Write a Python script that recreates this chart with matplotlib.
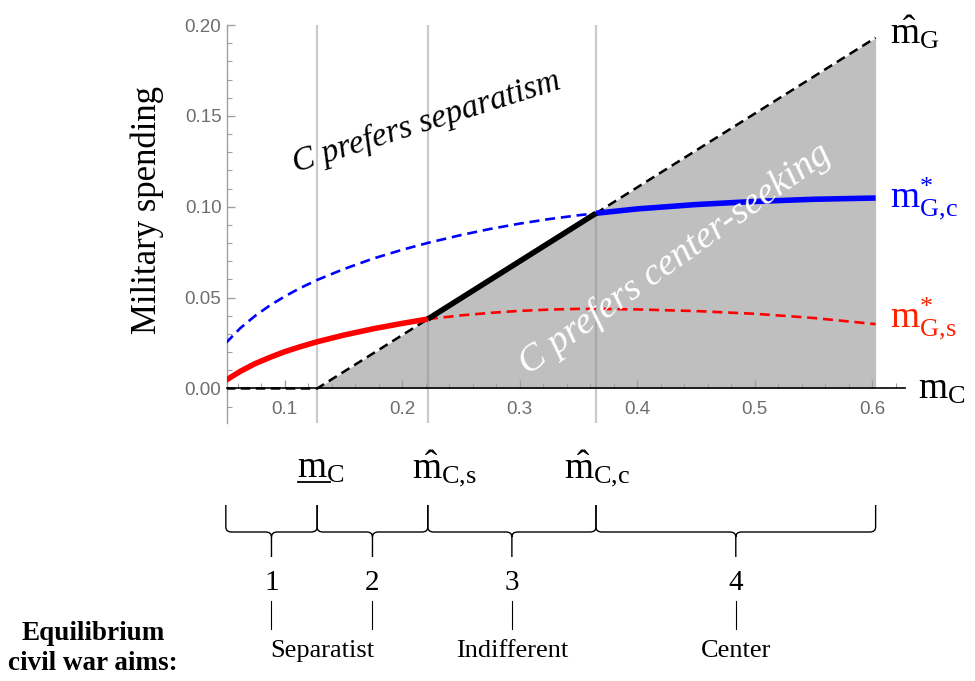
import matplotlib
matplotlib.use("Agg")
import matplotlib.pyplot as plt
from matplotlib.path import Path
from matplotlib.patches import PathPatch
from matplotlib.transforms import blended_transform_factory
from matplotlib.lines import Line2D
from matplotlib.ticker import MultipleLocator, FixedLocator

plt.rcParams['mathtext.fontset'] = 'custom'
plt.rcParams['mathtext.rm'] = 'Liberation Serif'
plt.rcParams['mathtext.it'] = 'Liberation Serif:italic'
plt.rcParams['mathtext.bf'] = 'Liberation Serif:bold'

# ---------------- data ----------------
m_C_low = 0.1277     # underline m_C
m_hat_Cs = 0.2219    # hat m_{C,s}
m_hat_Cc = 0.365     # hat m_{C,c}
x_start = 0.05
x_end = 0.603

# hat m_G threshold curve
mhat_x = [0.05, 0.1277, 0.2219, 0.365, 0.603]
mhat_y = [0.0, 0.0, 0.0382, 0.0964, 0.193]

curve_x = [0.05, 0.0625, 0.075, 0.0875, 0.1, 0.1125, 0.1277, 0.15, 0.175, 0.2, 0.2219,
           0.25, 0.275, 0.3, 0.325, 0.35, 0.365, 0.4, 0.45, 0.5, 0.55, 0.603]
m_Gc = [0.025, 0.0333, 0.0400, 0.0457, 0.0506, 0.0550, 0.0597, 0.0656, 0.0714, 0.0763,
        0.0801, 0.0844, 0.0878, 0.0907, 0.0932, 0.0953, 0.0964, 0.0988, 0.1012, 0.1029,
        0.1041, 0.1048]
m_Gs = [0.0045, 0.0095, 0.0137, 0.0171, 0.0202, 0.0228, 0.0257, 0.0293, 0.0328, 0.0358,
        0.0382, 0.0402, 0.0416, 0.0427, 0.0434, 0.0438, 0.0438, 0.0435, 0.0426, 0.0411,
        0.0388, 0.0354]

x_ticks = [0.1, 0.2, 0.3, 0.4, 0.5, 0.6]
y_ticks = [0.0, 0.05, 0.10, 0.15, 0.20]
region_numbers = ["1", "2", "3", "4"]
aims = ["Separatist", "Indifferent", "Center"]

# ---------------- figure ----------------
W, H = 975, 681
fig = plt.figure(figsize=(W / 100, H / 100), dpi=100)

def px(x, y):
    return x / W, 1 - y / H

ax = fig.add_axes([227 / W, 1 - 423 / H, (905 - 227) / W, (423 - 25) / H])
ax.set_xlim(0.051, 0.628)
ax.set_ylim(-0.019, 0.2)
ax.patch.set_alpha(0)

SERIF = 'Liberation Serif'
SANS = 'Liberation Sans'
GRAY_TXT = '#6e6e6e'
AX_GRAY = '#a0a0a0'

# shaded region (C prefers center-seeking)
ax.fill_between(mhat_x, 0, mhat_y, color='#bfbfbf', lw=0, zorder=1)

# vertical threshold lines
for xv in [m_C_low, m_hat_Cs, m_hat_Cc]:
    ax.axvline(xv, color=(0.55, 0.55, 0.55), alpha=0.45, lw=1.6, zorder=2)

# threshold line hat m_G (dashed)
ax.plot(mhat_x, mhat_y, color='black', lw=1.8, dashes=(3.8, 2.2), zorder=4,
        solid_capstyle='butt', dash_capstyle='butt')
# solid black piece between hat m_{C,s} and hat m_{C,c}
i0, i1 = mhat_x.index(m_hat_Cs), mhat_x.index(m_hat_Cc)
ax.plot(mhat_x[i0:i1 + 1], mhat_y[i0:i1 + 1], color='black', lw=4.0, zorder=6,
        solid_capstyle='butt')

# blue curve m*_{G,c}
kc = curve_x.index(m_hat_Cc)
ax.plot(curve_x[:kc + 1], m_Gc[:kc + 1], color='#0000ff', lw=1.9, dashes=(3.8, 2.2),
        zorder=5, dash_capstyle='butt')
ax.plot(curve_x[kc:], m_Gc[kc:], color='#0000ff', lw=4.0, zorder=5, solid_capstyle='butt',
        solid_joinstyle='round')

# red curve m*_{G,s}
ks = curve_x.index(m_hat_Cs)
ax.plot(curve_x[:ks + 1], m_Gs[:ks + 1], color='#ff0000', lw=4.0, zorder=5,
        solid_capstyle='butt', solid_joinstyle='round')
ax.plot(curve_x[ks:], m_Gs[ks:], color='#ff0000', lw=1.9, dashes=(3.8, 2.2),
        zorder=5, dash_capstyle='butt')

# ---------------- axes styling ----------------
for s in ['top', 'right']:
    ax.spines[s].set_visible(False)
ax.spines['left'].set_color(AX_GRAY)
ax.spines['left'].set_linewidth(1.0)
ax.spines['bottom'].set_position(('data', 0))
ax.spines['bottom'].set_color('black')
ax.spines['bottom'].set_linewidth(1.2)
ax.spines['bottom'].set_zorder(3)

ax.xaxis.set_major_locator(FixedLocator(x_ticks))
ax.xaxis.set_minor_locator(MultipleLocator(0.02))
ax.yaxis.set_major_locator(FixedLocator(y_ticks))
ax.yaxis.set_minor_locator(MultipleLocator(0.01))
ax.set_xticklabels([f"{v:.1f}" for v in x_ticks])
ax.set_yticklabels([f"{v:.2f}" for v in y_ticks])
ax.tick_params(axis='both', which='both', direction='in', color=AX_GRAY,
               labelcolor=GRAY_TXT, labelsize=13.5)
ax.tick_params(axis='both', which='major', length=6, width=1.0)
ax.tick_params(axis='both', which='minor', length=3.5, width=0.8)
ax.tick_params(axis='x', pad=9)
ax.tick_params(axis='y', pad=4)
for lab in ax.get_xticklabels() + ax.get_yticklabels():
    lab.set_fontfamily(SANS)

# ---------------- text inside plot ----------------
ax.text(0.221, 0.1466, "C prefers separatism", family=SERIF, style='italic',
        fontsize=24, rotation=17.5, ha='center', va='center', zorder=8,
        rotation_mode='anchor')
ax.text(0.432, 0.0712, "C prefers center-seeking", family=SERIF, style='italic',
        fontsize=27.5, rotation=35.5, ha='center', va='center', color='white',
        zorder=8, rotation_mode='anchor')

# right-side labels
ax.text(0.615, 0.190, r"$\hat{\mathrm{m}}_{\mathrm{G}}$", fontsize=27, color='black',
        ha='left', va='baseline', clip_on=False)
ax.text(0.615, 0.0998, r"$\mathrm{m}^{*}_{\mathrm{G{,}c}}$", fontsize=27, color='#0000ff',
        ha='left', va='baseline', clip_on=False)
ax.text(0.615, 0.0336, r"$\mathrm{m}^{*}_{\mathrm{G{,}s}}$", fontsize=27, color='#ff2200',
        ha='left', va='baseline', clip_on=False)
ax.text(0.639, -0.0055, r"$\mathrm{m}_{\mathrm{C}}$", fontsize=27, color='black',
        ha='left', va='baseline', clip_on=False)

# y label
fig.text(*px(147, 210), "Military spending", family=SERIF, fontsize=25,
         rotation=90, ha='center', va='center')

# ---------------- labels below axis ----------------
fig.text(*px(297, 478), r"$\mathrm{m}_{\mathrm{C}}$", fontsize=27, ha='left', va='baseline')
fig.add_artist(Line2D([298 / W, 330 / W], [1 - 482 / H, 1 - 482 / H], color='black', lw=1.3))
fig.text(*px(412, 478), r"$\hat{\mathrm{m}}_{\mathrm{C{,}s}}$", fontsize=27, ha='left', va='baseline')
fig.text(*px(564, 478), r"$\hat{\mathrm{m}}_{\mathrm{C{,}c}}$", fontsize=27, ha='left', va='baseline')

# braces
bt = blended_transform_factory(ax.transData, fig.transFigure)
y_top = 1 - 505 / H
y_mid = 1 - 532 / H
y_bot = 1 - 557 / H
r = 5 / H
d = 0.005
edges = [x_start, m_C_low, m_hat_Cs, m_hat_Cc, x_end]
tips = []
for a, b in zip(edges[:-1], edges[1:]):
    m = 0.5 * (a + b)
    tips.append(m)
    verts = [(a, y_top), (a, y_mid + r), (a, y_mid), (a + d, y_mid),
             (m - d, y_mid), (m, y_mid), (m, y_mid - r), (m, y_bot),
             (m, y_mid - r), (m, y_mid), (m + d, y_mid),
             (b - d, y_mid), (b, y_mid), (b, y_mid + r), (b, y_top)]
    codes = [Path.MOVETO, Path.LINETO, Path.CURVE3, Path.CURVE3,
             Path.LINETO, Path.CURVE3, Path.CURVE3, Path.LINETO,
             Path.MOVETO, Path.CURVE3, Path.CURVE3,
             Path.LINETO, Path.CURVE3, Path.CURVE3, Path.LINETO]
    fig.add_artist(PathPatch(Path(verts, codes), transform=bt, fill=False,
                             lw=1.0, edgecolor='black', clip_on=False))

# region numbers and ticks
for t, num in zip(tips, region_numbers):
    ax.text(t, 1 - 583 / H, num, transform=bt, fontsize=21, family=SERIF,
            ha='center', va='center', clip_on=False)
    fig.add_artist(Line2D([t, t], [1 - 601 / H, 1 - 629 / H], transform=bt,
                          color='black', lw=0.8))

# aims labels
ax.text(0.5 * (tips[0] + tips[1]), 1 - 651 / H, aims[0], transform=bt, fontsize=19,
        family=SERIF, ha='center', va='center', clip_on=False)
ax.text(tips[2], 1 - 651 / H, aims[1], transform=bt, fontsize=19,
        family=SERIF, ha='center', va='center', clip_on=False)
ax.text(tips[3], 1 - 651 / H, aims[2], transform=bt, fontsize=19,
        family=SERIF, ha='center', va='center', clip_on=False)

fig.text(*px(93, 634), "Equilibrium", family=SERIF, fontweight='bold', fontsize=19.5,
         ha='center', va='center')
fig.text(*px(93, 663), "civil war aims:", family=SERIF, fontweight='bold', fontsize=19.5,
         ha='center', va='center')

fig.savefig("out.png", dpi=100)
